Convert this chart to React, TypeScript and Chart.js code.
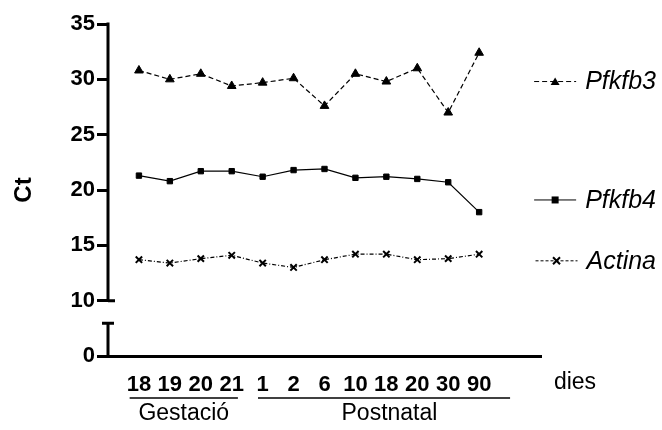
import { useEffect, useRef } from "react";
import { Chart, registerables } from "chart.js";

Chart.register(...registerables);

// ---- data ----
const categories = ["18", "19", "20", "21", "1", "2", "6", "10", "18", "20", "30", "90"];
const pfkfb3 = [30.8, 30.0, 30.5, 29.4, 29.7, 30.1, 27.6, 30.5, 29.8, 31.0, 27.0, 32.4];
const pfkfb4 = [21.3, 20.8, 21.7, 21.7, 21.2, 21.8, 21.9, 21.1, 21.2, 21.0, 20.7, 18.0];
const actina = [13.7, 13.4, 13.8, 14.1, 13.4, 13.0, 13.7, 14.2, 14.2, 13.7, 13.8, 14.2];
const seriesNames = ["Pfkfb3", "Pfkfb4", "Actina"];
const yTickValues = [5, 10, 15, 20, 25, 30, 35];
const yTickLabels = ["0", "10", "15", "20", "25", "30", "35"];
const groupNames = ["Gestació", "Postnatal"];
const unitLabel = "dies";
const yTitle = "Ct";

const FONT = "'Liberation Sans', Arial, sans-serif";

const decorPlugin = {
  id: "decor",
  afterDraw(chart: any) {
    const { ctx, chartArea, scales } = chart;
    const x = scales.x;
    const y = scales.y;
    const L = chartArea.left;
    ctx.save();
    ctx.strokeStyle = "#000";
    ctx.fillStyle = "#000";
    ctx.lineWidth = 3;
    ctx.lineCap = "butt";
    // broken y axis
    ctx.beginPath();
    ctx.moveTo(L, y.getPixelForValue(35) - 1.5);
    ctx.lineTo(L, y.getPixelForValue(10));
    ctx.moveTo(L, y.getPixelForValue(10));
    ctx.lineTo(L + 7, y.getPixelForValue(10));
    ctx.moveTo(L - 6, y.getPixelForValue(7.95));
    ctx.lineTo(L + 6, y.getPixelForValue(7.95));
    ctx.moveTo(L, y.getPixelForValue(7.95));
    ctx.lineTo(L, y.getPixelForValue(5));
    ctx.stroke();

    // group underlines + labels
    const B = chartArea.bottom;
    const spans = [
      [-0.3, 3.2, 1.45],
      [3.85, 12.0, 8.1],
    ];
    ctx.lineWidth = 1.5;
    ctx.font = `23px ${FONT}`;
    ctx.textAlign = "center";
    ctx.textBaseline = "middle";
    spans.forEach((s, i) => {
      const a = x.getPixelForValue(s[0]);
      const b = x.getPixelForValue(s[1]);
      ctx.beginPath();
      ctx.moveTo(a, B + 42);
      ctx.lineTo(b, B + 42);
      ctx.stroke();
      ctx.fillText(groupNames[i], x.getPixelForValue(s[2]), B + 58);
    });
    // unit label
    ctx.fillText(unitLabel, x.getPixelForValue(14.1), B + 27);

    // legend
    const legendVals = [29.8, 19.1, 13.6];
    const dashes = [[5, 3], [], [3, 2]];
    ctx.font = `italic 25px ${FONT}`;
    ctx.textAlign = "left";
    seriesNames.forEach((name, i) => {
      const py = y.getPixelForValue(legendVals[i]);
      const w = ctx.measureText(name).width;
      const tx = 656 - w;
      const x1 = tx - 9;
      const x0 = x1 - 42;
      ctx.lineWidth = 1;
      ctx.setLineDash(dashes[i]);
      ctx.beginPath();
      ctx.moveTo(x0, py);
      ctx.lineTo(x1, py);
      ctx.stroke();
      ctx.setLineDash([]);
      const cx = (x0 + x1) / 2;
      if (i === 0) {
        ctx.beginPath();
        ctx.moveTo(cx, py - 4);
        ctx.lineTo(cx + 4.5, py + 3.5);
        ctx.lineTo(cx - 4.5, py + 3.5);
        ctx.closePath();
        ctx.fill();
      } else if (i === 1) {
        ctx.fillRect(cx - 3.5, py - 3.5, 7, 7);
      } else {
        ctx.lineWidth = 2;
        ctx.beginPath();
        ctx.moveTo(cx - 3.5, py - 3.5);
        ctx.lineTo(cx + 3.5, py + 3.5);
        ctx.moveTo(cx + 3.5, py - 3.5);
        ctx.lineTo(cx - 3.5, py + 3.5);
        ctx.stroke();
      }
      ctx.fillText(name, tx, py + 1);
    });
    ctx.restore();
  },
};

export default function App() {
  const ref = useRef<HTMLCanvasElement | null>(null);
  useEffect(() => {
    document.body.style.margin = "0";
    const canvas = ref.current;
    if (!canvas) return;
    const toPts = (arr: number[]) => arr.map((v, i) => ({ x: i, y: v }));
    const chart = new Chart(canvas, {
      type: "line",
      data: {
        datasets: [
          {
            label: seriesNames[0],
            data: toPts(pfkfb3),
            borderColor: "#000",
            backgroundColor: "#000",
            borderWidth: 1.2,
            borderDash: [5, 3],
            pointStyle: "triangle",
            pointRadius: 5,
            pointBorderWidth: 1,
          },
          {
            label: seriesNames[1],
            data: toPts(pfkfb4),
            borderColor: "#000",
            backgroundColor: "#000",
            borderWidth: 1.2,
            pointStyle: "rect",
            pointRadius: 3.8,
            pointBorderWidth: 1,
          },
          {
            label: seriesNames[2],
            data: toPts(actina),
            borderColor: "#000",
            backgroundColor: "#000",
            borderWidth: 1.2,
            borderDash: [4, 2, 1, 2],
            pointStyle: "crossRot",
            pointRadius: 4.5,
            pointBorderWidth: 2,
          },
        ],
      },
      options: {
        responsive: false,
        animation: false,
        events: [],
        layout: { padding: { top: 24, right: 121, left: 0, bottom: 0 } },
        plugins: { legend: { display: false }, tooltip: { enabled: false } },
        scales: {
          x: {
            type: "linear",
            min: -1,
            max: 13,
            afterBuildTicks: (s: any) => {
              s.ticks = categories.map((_, i) => ({ value: i }));
            },
            afterFit: (s: any) => {
              s.height = 74;
            },
            grid: { display: false },
            border: { display: true, width: 3, color: "#000" },
            ticks: {
              autoSkip: false,
              maxRotation: 0,
              padding: 8,
              color: "#000",
              font: { family: FONT, size: 22, weight: "bold" },
              callback: (v: any) => categories[v] ?? "",
            },
          },
          y: {
            type: "linear",
            min: 5,
            max: 35,
            afterBuildTicks: (s: any) => {
              s.ticks = yTickValues.map((v) => ({ value: v }));
            },
            afterFit: (s: any) => {
              s.width = 108;
            },
            border: { display: false },
            grid: {
              display: true,
              drawOnChartArea: false,
              drawTicks: true,
              tickLength: 11,
              tickWidth: 3,
              tickColor: "#000",
            },
            title: {
              display: true,
              text: yTitle,
              color: "#000",
              font: { family: FONT, size: 24, weight: "bold" },
              padding: { top: 10, bottom: 0 },
            },
            ticks: {
              padding: 2,
              color: "#000",
              font: { family: FONT, size: 22, weight: "bold" },
              callback: (v: any) => yTickLabels[yTickValues.indexOf(v)] ?? "",
            },
          },
        },
      },
      plugins: [decorPlugin],
    });
    return () => chart.destroy();
  }, []);
  return (
    <div style={{ width: 662, height: 430 }}>
      <canvas ref={ref} width={662} height={430} />
    </div>
  );
}
